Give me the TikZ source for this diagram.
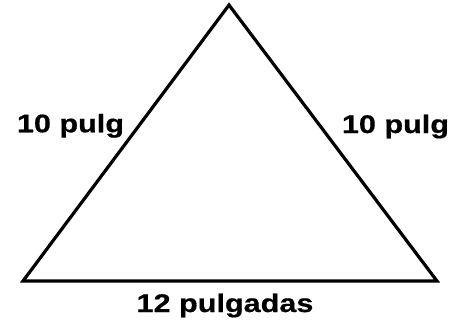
\documentclass[tikz,border=0pt]{standalone}
\usepackage{fontspec}
\newfontfamily\labfont[FakeStretch=1.2,FakeBold=0.6]{Liberation Sans}
\begin{document}
\begin{tikzpicture}[x=1pt,y=-1pt,
  side/.style={line width=3.2pt,line join=miter},
  lab/.style={font=\labfont\bfseries\fontsize{25.5}{25.5}\selectfont,inner sep=0pt,anchor=base}]
\useasboundingbox (0,0) rectangle (466,324);
\coordinate (A) at (229,5);
\coordinate (B) at (23,281);
\coordinate (C) at (437,281);
\draw[side] (A) -- (B) -- (C) -- cycle;
\node[lab] (l) at (70.5,132.3) {10 pulg};
\node[lab] (r) at (395.5,133) {10 pulg};
\node[lab] (b) at (225,312) {12 pulgadas};
\end{tikzpicture}
\end{document}
